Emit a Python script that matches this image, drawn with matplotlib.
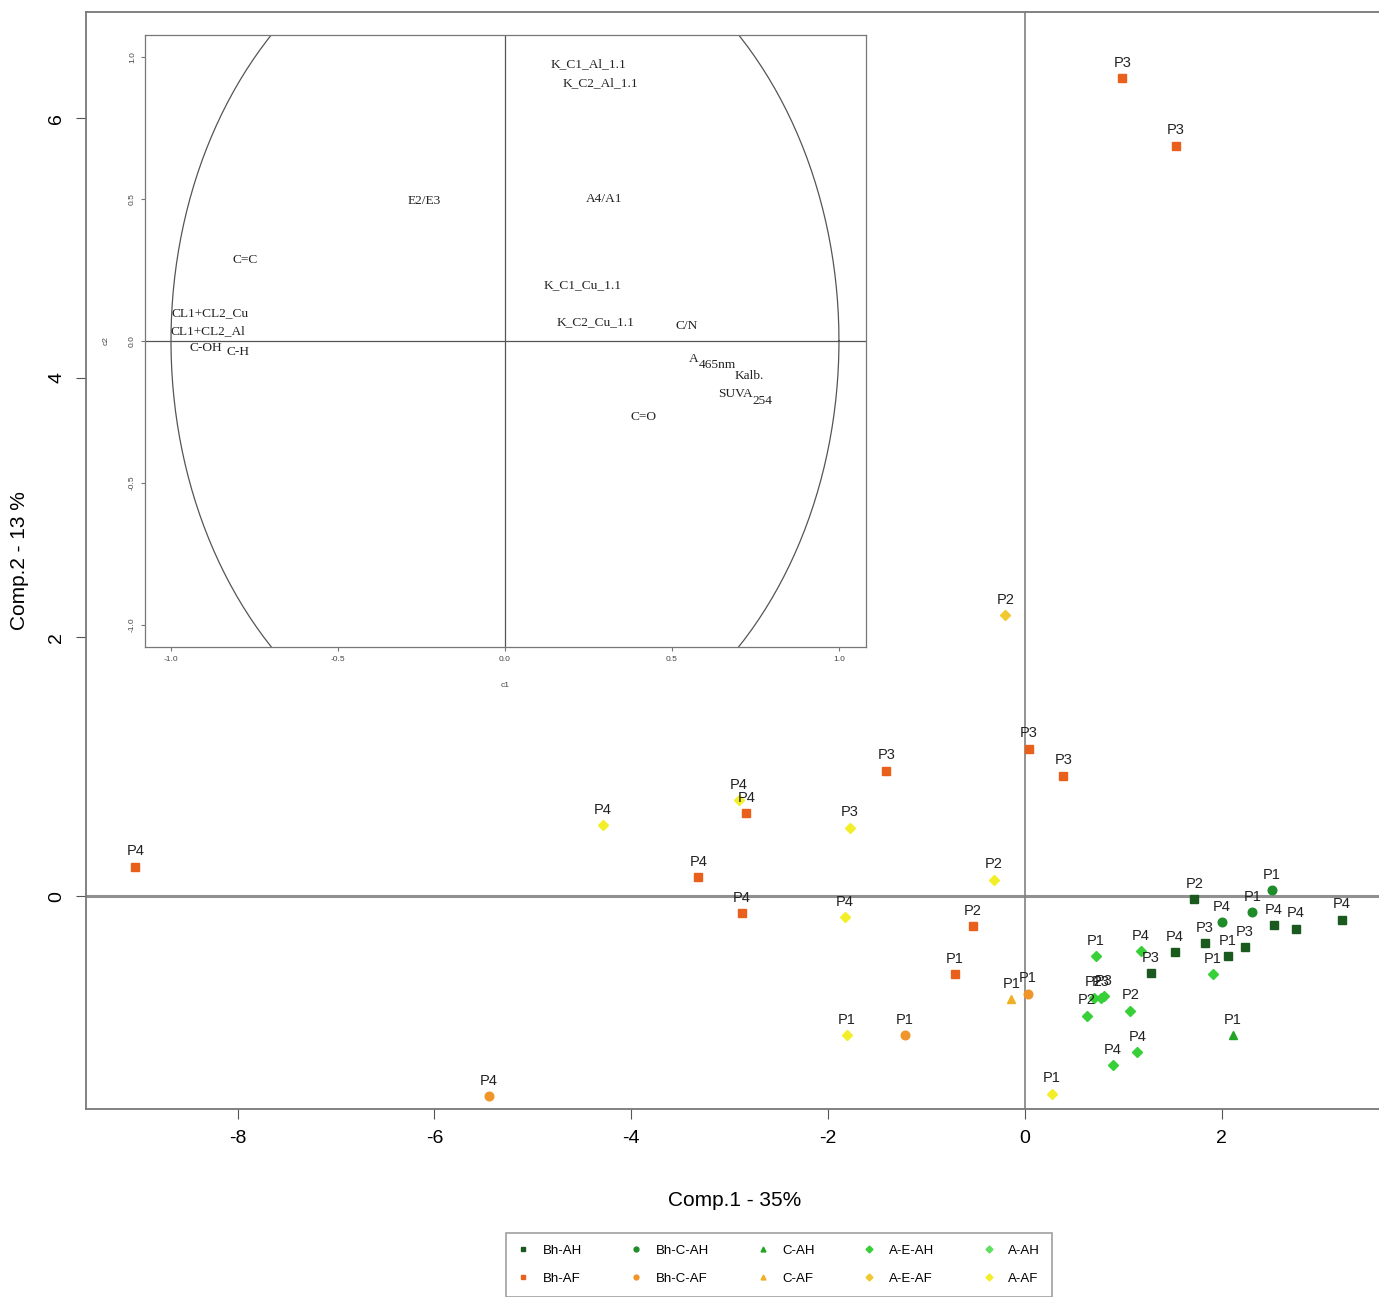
import numpy as np
import matplotlib
matplotlib.use("Agg")
import matplotlib.pyplot as plt
from matplotlib.lines import Line2D

plt.rcParams['font.family'] = ['Liberation Sans Narrow', 'Liberation Sans', 'DejaVu Sans']
plt.rcParams['axes.unicode_minus'] = False

# ===== DATA: individual scores (Comp.1, Comp.2, label) =====
bh_ah_x = [1.72, 2.53, 2.75, 3.22, 1.83, 2.06, 2.23, 1.52, 1.28]
bh_ah_y = [-0.02, -0.22, -0.25, -0.18, -0.36, -0.46, -0.39, -0.43, -0.59]
bh_ah_lab = ['P2', 'P4', 'P4', 'P4', 'P3', 'P1', 'P3', 'P4', 'P3']

bhc_ah_x = [2.51, 2.31, 2.00]
bhc_ah_y = [0.05, -0.12, -0.20]
bhc_ah_lab = ['P1', 'P1', 'P4']

c_ah_x = [2.11]
c_ah_y = [-1.07]
c_ah_lab = ['P1']

ae_ah_x = [0.72, 1.18, 1.91, 0.70, 0.77, 0.80, 0.63, 1.07, 1.14, 0.89]
ae_ah_y = [-0.46, -0.42, -0.60, -0.78, -0.78, -0.77, -0.92, -0.88, -1.20, -1.30]
ae_ah_lab = ['P1', 'P4', 'P1', 'P2', 'P3', 'P3', 'P2', 'P2', 'P4', 'P4']

bh_af_x = [0.99, 1.53, 0.04, 0.39, -1.41, -2.83, -3.32, -2.88, -9.04, -0.53, -0.71]
bh_af_y = [6.31, 5.79, 1.14, 0.93, 0.97, 0.64, 0.15, -0.13, 0.23, -0.23, -0.60]
bh_af_lab = ['P3', 'P3', 'P3', 'P3', 'P3', 'P4', 'P4', 'P4', 'P4', 'P2', 'P1']

bhc_af_x = [-1.22, -5.45, 0.03]
bhc_af_y = [-1.07, -1.54, -0.75]
bhc_af_lab = ['P1', 'P4', 'P1']

c_af_x = [-0.14]
c_af_y = [-0.79]
c_af_lab = ['P1']

ae_af_x = [-0.20]
ae_af_y = [2.17]
ae_af_lab = ['P2']

a_af_x = [-0.32, -4.29, -2.91, -1.78, -1.83, -1.81, 0.27]
a_af_y = [0.13, 0.55, 0.74, 0.53, -0.16, -1.07, -1.52]
a_af_lab = ['P2', 'P4', 'P4', 'P3', 'P4', 'P1', 'P1']

# ===== DATA: variable loadings (inset correlation circle) =====
var_names = ['K_C1_Al_1.1', 'K_C2_Al_1.1', 'E2/E3', 'A4/A1', 'C=C', 'K_C1_Cu_1.1',
             'K_C2_Cu_1.1', 'C/N', 'CL1+CL2_Cu', 'CL1+CL2_Al', 'C-OH', 'C-H',
             'A', 'Kalb.', 'SUVA', 'C=O']
var_sub = ['', '', '', '', '', '', '', '', '', '', '', '', '465nm', '', '254', '']
var_c1 = [0.25, 0.285, -0.243, 0.296, -0.778, 0.234, 0.272, 0.545, -0.883, -0.889,
          -0.895, -0.80, 0.552, 0.733, 0.638, 0.416]
var_c2 = [0.977, 0.91, 0.494, 0.50, 0.286, 0.198, 0.067, 0.053, 0.099, 0.035,
          -0.025, -0.039, -0.062, -0.123, -0.188, -0.268]

groups = [
    ('Bh-AH', bh_ah_x, bh_ah_y, bh_ah_lab, 's', '#1a5a1e'),
    ('Bh-AF', bh_af_x, bh_af_y, bh_af_lab, 's', '#e8601c'),
    ('Bh-C-AH', bhc_ah_x, bhc_ah_y, bhc_ah_lab, 'o', '#1f8c2a'),
    ('Bh-C-AF', bhc_af_x, bhc_af_y, bhc_af_lab, 'o', '#f0952a'),
    ('C-AH', c_ah_x, c_ah_y, c_ah_lab, '^', '#22a524'),
    ('C-AF', c_af_x, c_af_y, c_af_lab, '^', '#f0b024'),
    ('A-E-AH', ae_ah_x, ae_ah_y, ae_ah_lab, 'D', '#38d038'),
    ('A-E-AF', ae_af_x, ae_af_y, ae_af_lab, 'D', '#f0c830'),
    ('A-AH', [], [], [], 'D', '#60e060'),
    ('A-AF', a_af_x, a_af_y, a_af_lab, 'D', '#f2ee28'),
]

fig = plt.figure(figsize=(13.79, 12.97), dpi=100)
ax = fig.add_axes([0.0624, 0.1449, 0.94, 0.8458])

ax.axhline(0, color='#909090', lw=2.2, zorder=1)
ax.axvline(0, color='#808080', lw=1.2, zorder=1)

handles = []
for name, xs, ys, labs, mk, col in groups:
    ms = 6.2 if mk in ('s', 'o', '^') else 5.4
    ax.plot(xs, ys, linestyle='none', marker=mk, color=col, markersize=ms, zorder=3)
    for x, y, t in zip(xs, ys, labs):
        ax.annotate(t, (x, y), xytext=(0, 6), textcoords='offset points',
                    ha='center', va='bottom', fontsize=10.5, color='#222222',
                    family=['Liberation Sans', 'DejaVu Sans'], zorder=4)
    handles.append(Line2D([], [], linestyle='none', marker=mk, color=col,
                          markersize=3.5, label=name))

ax.set_xlim(-9.54, 3.63)
ax.set_ylim(-1.64, 6.82)
ax.set_xticks([-8, -6, -4, -2, 0, 2])
ax.set_yticks([0, 2, 4, 6])
ax.tick_params(labelsize=14, length=7, color='#555555', pad=8)
for lab in ax.get_yticklabels():
    lab.set_rotation(90)
    lab.set_va('center')
for side in ('left', 'bottom', 'top'):
    ax.spines[side].set_color('#777777')
    ax.spines[side].set_linewidth(1.3)
ax.spines['right'].set_visible(False)
ax.set_xlabel('Comp.1 - 35%', fontsize=15, labelpad=32)
ax.set_ylabel('Comp.2 - 13 %', fontsize=15, labelpad=14)

# ===== INSET: correlation circle =====
ins = fig.add_axes([0.1051, 0.5012, 0.5229, 0.4719])
ins.set_xlim(-1.078, 1.081)
ins.set_ylim(-1.079, 1.079)
t = np.linspace(0, 2 * np.pi, 400)
ins.plot(np.cos(t), 1.51 * np.sin(t), color='#555555', lw=0.9)
ins.axhline(0, color='#555555', lw=0.9)
ins.axvline(0, color='#555555', lw=0.9)
serif = ['Liberation Serif', 'DejaVu Serif']
for name, sub, cx, cy in zip(var_names, var_sub, var_c1, var_c2):
    if sub:
        txt = ins.text(cx, cy, name, ha='left', va='center', fontsize=9.6,
                       family=serif, color='#222222')
        ins.annotate(sub, xy=(1, 0.5), xycoords=txt, xytext=(0, -5),
                     textcoords='offset points', ha='left', va='center',
                     fontsize=9.6, family=serif, color='#222222')
    else:
        ins.text(cx, cy, name, ha='center', va='center', fontsize=9.6,
                 family=serif, color='#222222')
ins.set_xticks([-1.0, -0.5, 0.0, 0.5, 1.0])
ins.set_yticks([-1.0, -0.5, 0.0, 0.5, 1.0])
ins.set_xticklabels(['-1.0', '-0.5', '0.0', '0.5', '1.0'])
ins.set_yticklabels(['-1.0', '-0.5', '0.0', '0.5', '1.0'], rotation=90, va='center')
ins.tick_params(labelsize=6, length=3, color='#777777', labelcolor='#444444')
ins.set_xlabel('c1', fontsize=6, color='#444444', labelpad=14)
ins.set_ylabel('c2', fontsize=6, color='#444444', labelpad=14)
for sp in ins.spines.values():
    sp.set_color('#777777')
    sp.set_linewidth(0.9)

leg = fig.legend(handles=handles, loc='upper left', ncol=5,
                 bbox_to_anchor=(499 / 1379, 1 - 1226 / 1297),
                 fontsize=9.5, frameon=True, fancybox=False, edgecolor='#888888',
                 handlelength=0.8, handletextpad=1.1, columnspacing=3.7,
                 labelspacing=1.2, borderpad=0.9)
leg.get_frame().set_linewidth(1.2)

fig.savefig('out.png', dpi=100)
